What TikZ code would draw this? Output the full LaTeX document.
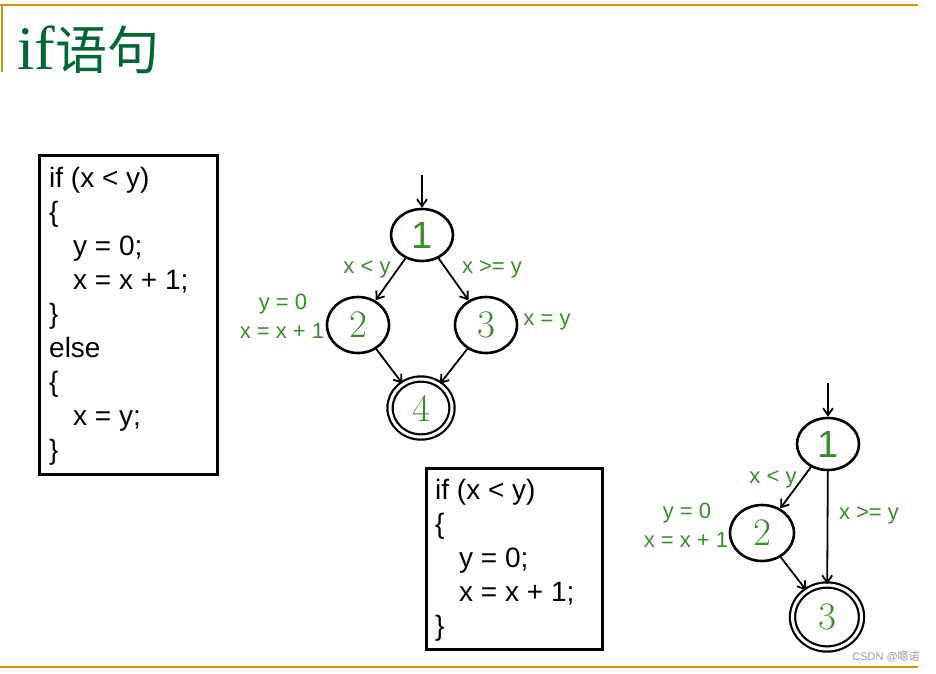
\documentclass[tikz,border=0pt]{standalone}
\usepackage{fontspec}
\newfontfamily\cjk{Noto Sans CJK SC}
\newfontfamily\arialf{Liberation Sans}
\newfontfamily\timesf{Liberation Serif}
\usetikzlibrary{shapes.geometric,arrows.meta}
\definecolor{gold}{RGB}{204,153,0}
\definecolor{titlegreen}{RGB}{0,102,51}
\definecolor{lblgreen}{RGB}{56,142,40}
\begin{document}
\begin{tikzpicture}[x=1pt,y=-1pt,
  state/.style={ellipse, draw, line width=2.6pt, inner sep=0pt, minimum width=62pt, minimum height=52pt, text=lblgreen},
  final/.style={state, double, double distance=3pt, line width=2.2pt},
  numsans/.style={font=\arialf\fontsize{38}{38}\selectfont},
  numserif/.style={font=\fontsize{39}{39}\selectfont},
  edge/.style={-{Straight Barb[length=7pt,width=10pt]}, line width=1.8pt},
  lbl/.style={text=lblgreen, font=\arialf\fontsize{22}{24}\selectfont, inner sep=0pt},
  code/.style={anchor=base west, inner sep=0pt, font=\arialf\fontsize{28}{34}\selectfont},
  box/.style={draw, line width=2.5pt, inner sep=0pt, anchor=north west},
  rule/.style={draw=gold, line width=2pt}]
\useasboundingbox[fill=white] (0,0) rectangle (936,673);

% rules
\draw[rule] (0,5) -- (918,5);
\draw[rule] (1.5,5) -- (1.5,72);
\draw[rule] (0,667) -- (918,667);

% title
\node[anchor=base west, text=titlegreen, inner sep=0pt] (title) at (17,69)
  {\timesf\fontsize{62}{62}\selectfont if\cjk\fontsize{52}{52}\selectfont 语句};

% left code box
\node[box, minimum width=178pt, minimum height=319pt] (boxA) at (38,154) {};
\node[code] (A1) at (49,187) {if (x < y)};
\node[code] (A2) at (49,221) {\{};
\node[code] (A3) at (73,255) {y = 0;};
\node[code] (A4) at (73,289) {x = x + 1;};
\node[code] (A5) at (49,323) {\}};
\node[code] (A6) at (49,357) {else};
\node[code] (A7) at (49,391) {\{};
\node[code] (A8) at (73,425) {x = y;};
\node[code] (A9) at (49,459) {\}};

% second code box
\node[box, minimum width=176pt, minimum height=181pt] (boxB) at (425,467) {};
\node[code] (B1) at (435,499) {if (x < y)};
\node[code] (B2) at (435,533) {\{};
\node[code] (B3) at (459,567) {y = 0;};
\node[code] (B4) at (459,601) {x = x + 1;};
\node[code] (B5) at (435,635) {\}};

% graph 1
\node[state, numsans] (a1) at (422,235) {1};
\node[state, numserif, minimum height=56pt] (a2) at (358,325) {2};
\node[state, numserif, minimum height=56pt] (a3) at (486,325) {3};
\node[final, numserif, minimum width=62pt, minimum height=58pt] (a4) at (421,408) {4};
\coordinate (a0) at (422,175);
\draw[edge] (a0) -- (a1);
\draw[edge] (a1) -- (a2);
\draw[edge] (a1) -- (a3);
\draw[edge] (a2) -- (a4);
\draw[edge] (a3) -- (a4);
\node[lbl] (la12) at (367,269) {x < y};
\node[lbl] (la13) at (492,269) {x >= y};
\node[lbl] (la2a) at (283,304) {y = 0};
\node[lbl] (la2b) at (282,331) {x = x + 1};
\node[lbl] (la3) at (547,322) {x = y};

% graph 2
\node[state, numsans] (b1) at (828,444) {1};
\node[state, numserif, minimum width=64pt, minimum height=56pt] (b2) at (762,533) {2};
\node[final, numserif, minimum width=69pt, minimum height=64pt] (b3) at (827,617) {3};
\coordinate (b0) at (828,383);
\draw[edge] (b0) -- (b1);
\draw[edge] (b1) -- (b2);
\draw[edge] (b1) -- (b3);
\draw[edge] (b2) -- (b3);
\node[lbl] (lb12) at (773,479) {x < y};
\node[lbl] (lb2a) at (687,513) {y = 0};
\node[lbl] (lb2b) at (686,540) {x = x + 1};
\node[lbl] (lb13) at (869,515) {x >= y};

% watermark
\node[text=black!40, font=\arialf\fontsize{11}{12}\selectfont, inner sep=0pt] (wm) at (886,657) {CSDN @{\cjk 嗯诺}};
\end{tikzpicture}
\end{document}
